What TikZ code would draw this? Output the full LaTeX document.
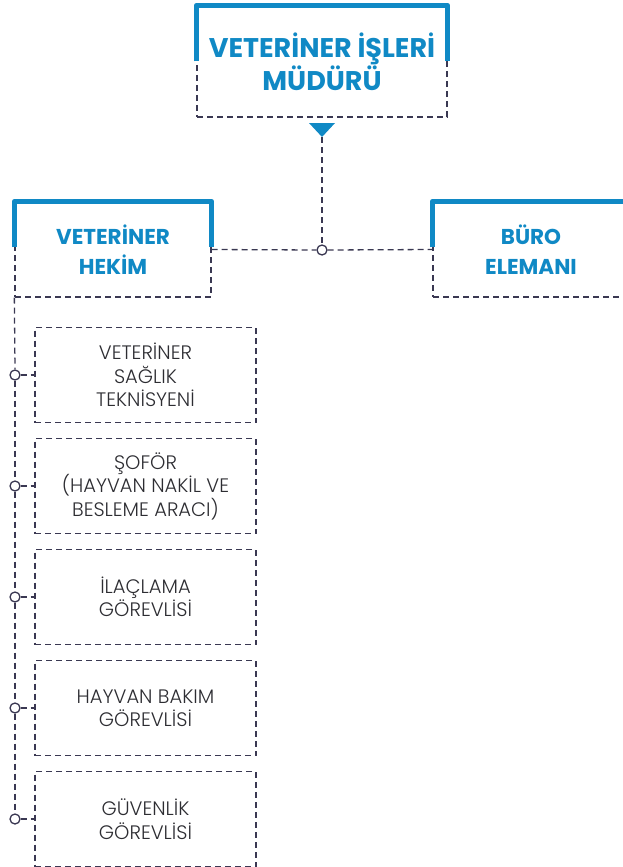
\documentclass[tikz,border=0pt]{standalone}
\usepackage{fontspec}
\setmainfont{Poppins}
\newfontfamily\headfont{Poppins Bold}
\newfontfamily\lightfont{Poppins Light}
\usepackage{tikz}
\definecolor{brandblue}{RGB}{16,137,197}
\definecolor{lineclr}{RGB}{58,56,82}
\definecolor{txtclr}{RGB}{45,45,50}

\begin{document}
\begin{tikzpicture}[x=1pt, y=-1pt,
  dashline/.style={draw=lineclr, line width=1.3pt, dash pattern=on 6pt off 4pt},
  bluebar/.style={draw=brandblue, line width=5pt, line join=round},
  headbox/.style={dashline, inner sep=0pt, align=center, text=brandblue},
  staffbox/.style={dashline, minimum width=221pt, minimum height=95pt, inner sep=0pt, align=center, text=txtclr,
    font=\lightfont\fontsize{19.5}{23.5}\selectfont},
  dot/.style={circle, draw=lineclr, fill=white, line width=1.3pt, minimum size=10pt, inner sep=0pt}]
  \useasboundingbox (0,0) rectangle (622,867);
  % top
  \node[headbox, minimum width=250pt, minimum height=111pt, font=\headfont\fontsize{27}{33}\selectfont]
    (mudur) at (322,61.5) {VETERİNER İŞLERİ\\MÜDÜRÜ};
  \draw[bluebar] ([yshift=-56pt]mudur.north west) -- (mudur.north west) -- (mudur.north east) -- ([yshift=-56pt]mudur.north east);
  \fill[brandblue] (309,123) -- (335,123) -- (322,137) coordinate (tip) -- cycle;
  % second row
  \node[headbox, minimum width=196pt, minimum height=95pt, font=\headfont\fontsize{21.5}{30}\selectfont]
    (hekim) at (113,249.5) {VETERİNER\\HEKİM};
  \draw[bluebar] ([yshift=-46pt]hekim.north west) -- (hekim.north west) -- (hekim.north east) -- ([yshift=-46pt]hekim.north east);
  \node[headbox, minimum width=196pt, minimum height=95pt, font=\headfont\fontsize{21.5}{30}\selectfont]
    (buro) at (531,249.5) {BÜRO\\ELEMANI};
  \draw[bluebar] ([yshift=-46pt]buro.north west) -- (buro.north west) -- (buro.north east) -- ([yshift=-46pt]buro.north east);
  \node[dot] (hub) at (322,250) {};
  \draw[dashline] (tip) -- (hub.north);
  \draw[dashline] (hekim.east) -- (hub.west);
  \draw[dashline] (hub.east) -- (buro.west);
  % staff
  \foreach \txt [count=\i] in {{VETERİNER\\SAĞLIK\\TEKNİSYENİ}, {ŞOFÖR\\(HAYVAN NAKİL VE\\BESLEME ARACI)},
      {İLAÇLAMA\\GÖREVLİSİ}, {HAYVAN BAKIM\\GÖREVLİSİ}, {GÜVENLİK\\GÖREVLİSİ}} {
    \node[staffbox] (s\i) at (145.5,264+111*\i) {\txt};
    \node[dot] (c\i) at (15,264+111*\i) {};
    \draw[dashline] (c\i.east) -- (s\i.west);
  }
  \draw[dashline] (hekim.south west) -- (c1.north);
  \foreach \i [evaluate=\i as \j using int(\i+1)] in {1,...,4}
    \draw[dashline] (c\i.south) -- (c\j.north);
\end{tikzpicture}
\end{document}
